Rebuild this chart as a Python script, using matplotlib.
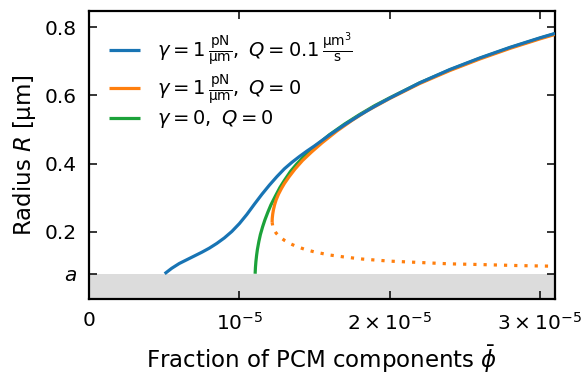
import numpy as np
import matplotlib
matplotlib.use("Agg")
import matplotlib.pyplot as plt

# === データ (x は 1e-5 単位) ===
A_RADIUS = 0.077

blue_phi = [0.503, 0.55, 0.60, 0.65, 0.70, 0.75, 0.80, 0.85, 0.90, 0.95, 1.00,
            1.05, 1.10, 1.15, 1.20, 1.25, 1.30, 1.35, 1.40, 1.45, 1.50, 1.55,
            1.60, 1.70, 1.80, 1.90, 2.00, 2.20, 2.40, 2.60, 2.80, 3.00, 3.10]
blue_R = [0.077, 0.093, 0.107, 0.118, 0.129, 0.140, 0.152, 0.166, 0.182, 0.201,
          0.224, 0.251, 0.281, 0.310, 0.337, 0.362, 0.385, 0.404, 0.421, 0.437,
          0.452, 0.468, 0.484, 0.514, 0.542, 0.568, 0.592, 0.637, 0.676, 0.710,
          0.741, 0.769, 0.782]

orange_phi = [1.218, 1.219, 1.222, 1.227, 1.235, 1.245, 1.26, 1.28, 1.30, 1.33,
              1.37, 1.42, 1.48, 1.55, 1.65, 1.75, 1.85, 2.00, 2.20, 2.40, 2.60,
              2.80, 3.00, 3.10]
orange_R = [0.228, 0.240, 0.252, 0.265, 0.280, 0.294, 0.310, 0.327, 0.342, 0.361,
            0.384, 0.409, 0.434, 0.461, 0.496, 0.527, 0.555, 0.591, 0.635, 0.673,
            0.707, 0.738, 0.766, 0.779]

orange_unstable_phi = [1.218, 1.222, 1.231, 1.245, 1.269, 1.30, 1.34, 1.38, 1.44,
                       1.50, 1.60, 1.70, 1.82, 2.00, 2.20, 2.40, 2.60, 2.85, 3.10]
orange_unstable_R = [0.228, 0.217, 0.206, 0.196, 0.185, 0.175, 0.165, 0.157, 0.148,
                     0.141, 0.132, 0.126, 0.120, 0.114, 0.110, 0.106, 0.104, 0.101,
                     0.099]

green_phi = [1.105, 1.107, 1.110, 1.115, 1.120, 1.130, 1.140, 1.155, 1.170, 1.190,
             1.210, 1.240, 1.270, 1.300, 1.340, 1.380, 1.430, 1.50, 1.60, 1.70,
             1.80, 1.90, 2.00, 2.20, 2.40, 2.60, 2.80, 3.00, 3.10]
green_R = [0.077, 0.095, 0.112, 0.132, 0.148, 0.172, 0.192, 0.215, 0.235, 0.258,
           0.279, 0.305, 0.330, 0.351, 0.377, 0.398, 0.421, 0.449, 0.485, 0.516,
           0.544, 0.570, 0.593, 0.637, 0.675, 0.709, 0.740, 0.768, 0.781]

x_ticks = [0, 1, 2, 3]
x_ticklabels = ["0", r"$10^{-5}$", r"$2\times10^{-5}$", r"$3\times10^{-5}$"]
y_ticks = [A_RADIUS, 0.2, 0.4, 0.6, 0.8]
y_ticklabels = [r"$a$", "0.2", "0.4", "0.6", "0.8"]

labels = [
    r"$\gamma=1\,\frac{\mathrm{pN}}{\mathrm{µm}},\ Q=0.1\,\frac{\mathrm{µm}^3}{\mathrm{s}}$",
    r"$\gamma=1\,\frac{\mathrm{pN}}{\mathrm{µm}},\ Q=0$",
    r"$\gamma=0,\ Q=0$",
]

C_BLUE = "#1874b4"
C_ORANGE = "#ff7f0e"
C_GREEN = "#1ca23a"

# === 描画 ===
plt.rcParams["font.family"] = "DejaVu Sans"
plt.rcParams["mathtext.fontset"] = "dejavusans"

fig = plt.figure(figsize=(5.86, 3.77), dpi=100)
ax = fig.add_axes([0.152, 0.207, 0.795, 0.764])

sc = 1e-5
ax.axhspan(0, A_RADIUS, color="#dcdcdc", lw=0, zorder=0)

lw = 2.3
ax.plot(np.array(green_phi) * sc, green_R, color=C_GREEN, lw=lw, label=labels[2],
        zorder=2, solid_capstyle="butt")
ax.plot(np.array(orange_phi) * sc, orange_R, color=C_ORANGE, lw=lw, label=labels[1],
        zorder=3, solid_capstyle="butt")
ax.plot(np.array(orange_unstable_phi) * sc, orange_unstable_R, color=C_ORANGE, lw=lw,
        ls=(0, (1, 2.2)), zorder=3)
ax.plot(np.array(blue_phi) * sc, blue_R, color=C_BLUE, lw=lw, label=labels[0],
        zorder=4, solid_capstyle="butt")

ax.set_xlim(0, 3.1e-5)
ax.set_ylim(0.003, 0.848)

ax.set_xticks(np.array(x_ticks) * sc)
ax.set_xticklabels(x_ticklabels)
ax.set_yticks(y_ticks)
ax.set_yticklabels(y_ticklabels)

ax.tick_params(direction="in", length=6, width=1.1, top=True, right=True,
               labelsize=14.5, pad=9)
for s in ax.spines.values():
    s.set_linewidth(1.6)

ax.set_xlabel(r"Fraction of PCM components $\bar{\phi}$", fontsize=16.5, labelpad=7)
ax.set_ylabel(r"Radius $R$ [µm]", fontsize=16.5, labelpad=5)

h, l = ax.get_legend_handles_labels()
order = [2, 1, 0]
ax.legend([h[i] for i in order], [l[i] for i in order], loc="upper left",
          frameon=False, fontsize=14, handlelength=1.6, handletextpad=0.9,
          borderaxespad=0.6, labelspacing=0.15)

fig.savefig("out.png", dpi=100)
plt.close(fig)
